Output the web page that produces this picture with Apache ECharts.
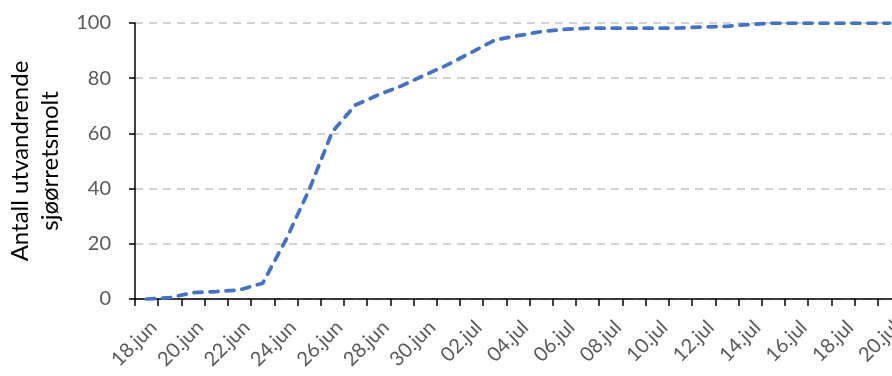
<!DOCTYPE html>
<html>
<head>
<meta charset="utf-8">
<script src="https://cdn.jsdelivr.net/npm/echarts@6/dist/echarts.min.js"></script>
<style>
  html, body { margin: 0; padding: 0; background: #fff; }
  #chart { width: 892px; height: 376px; }
</style>
</head>
<body>
<div id="chart"></div>
<script>
const categories = [
  "18.jun","19.jun","20.jun","21.jun","22.jun","23.jun","24.jun","25.jun","26.jun","27.jun","28.jun","29.jun","30.jun",
  "01.jul","02.jul","03.jul","04.jul","05.jul","06.jul","07.jul","08.jul","09.jul","10.jul","11.jul","12.jul",
  "13.jul","14.jul","15.jul","16.jul","17.jul","18.jul","19.jul","20.jul"
];
const cumulativeSmolt = [
  0, 0.5, 2.3, 2.7, 3.3, 5.7, 21.4, 39.5, 60.6, 70.3, 74, 77.3, 81.2,
  85, 89.4, 93.8, 95.4, 96.9, 97.7, 98.1, 98.1, 98.1, 98.1, 98.2, 98.6,
  98.8, 99.5, 100, 100, 100, 100, 100, 100
];
const yTicks = [0, 20, 40, 60, 80, 100];
const yTitle = "Antall utvandrende\nsjøørretsmolt";

const chart = echarts.init(document.getElementById('chart'), null, { renderer: 'canvas' });
chart.setOption({
  animation: false,
  backgroundColor: '#ffffff',
  textStyle: { fontFamily: 'Lato' },
  grid: { left: 135, right: -9, top: 23, bottom: 77, containLabel: false, outerBoundsMode: 'none' },
  xAxis: {
    type: 'category',
    data: categories,
    boundaryGap: true,
    axisLine: { show: true, lineStyle: { color: '#000', width: 1.5 } },
    axisTick: { show: true, interval: 0, length: 7, lineStyle: { color: '#000', width: 1.5 } },
    axisLabel: {
      interval: 1, rotate: 45, margin: 18, verticalAlign: 'top',
      color: '#595959', fontSize: 20, fontFamily: 'Lato'
    },
    splitLine: { show: false }
  },
  yAxis: {
    type: 'value',
    min: yTicks[0], max: yTicks[yTicks.length - 1], interval: 20,
    name: yTitle,
    nameLocation: 'middle',
    nameRotate: 90,
    nameGap: 66,
    nameTextStyle: { color: '#000', fontSize: 24, fontFamily: 'Lato', lineHeight: 30, align: 'center' },
    axisLine: { show: true, lineStyle: { color: '#000', width: 1.5 } },
    axisTick: { show: true, length: 6, lineStyle: { color: '#000', width: 1.5 } },
    axisLabel: { margin: 24, color: '#595959', fontSize: 20, fontFamily: 'Lato' },
    splitLine: { show: true, lineStyle: { color: '#c4c4c4', width: 1.5, type: [8, 6] } }
  },
  series: [{
    type: 'line',
    data: cumulativeSmolt,
    symbol: 'none',
    smooth: false,
    lineStyle: { color: '#4472C4', width: 3.75, type: [8, 8], cap: 'round', join: 'round' }
  }]
});
</script>
</body>
</html>
